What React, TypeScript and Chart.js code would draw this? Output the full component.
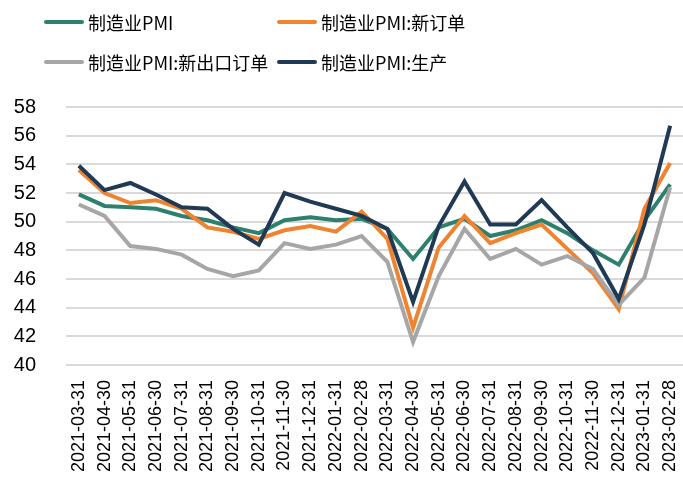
import React, { useEffect, useRef } from "react";
import { Chart, registerables } from "chart.js";

Chart.register(...registerables);

const categories = [
  "2021-03-31", "2021-04-30", "2021-05-31", "2021-06-30", "2021-07-31", "2021-08-31",
  "2021-09-30", "2021-10-31", "2021-11-30", "2021-12-31", "2022-01-31", "2022-02-28",
  "2022-03-31", "2022-04-30", "2022-05-31", "2022-06-30", "2022-07-31", "2022-08-31",
  "2022-09-30", "2022-10-31", "2022-11-30", "2022-12-31", "2023-01-31", "2023-02-28",
];

const pmi = [51.9, 51.1, 51.0, 50.9, 50.4, 50.1, 49.6, 49.2, 50.1, 50.3, 50.1, 50.2, 49.5, 47.4, 49.6, 50.2, 49.0, 49.4, 50.1, 49.2, 48.0, 47.0, 50.1, 52.6];
const newOrders = [53.6, 52.0, 51.3, 51.5, 50.9, 49.6, 49.3, 48.8, 49.4, 49.7, 49.3, 50.7, 48.8, 42.6, 48.2, 50.4, 48.5, 49.2, 49.8, 48.1, 46.4, 43.9, 50.9, 54.1];
const newExportOrders = [51.2, 50.4, 48.3, 48.1, 47.7, 46.7, 46.2, 46.6, 48.5, 48.1, 48.4, 49.0, 47.2, 41.6, 46.2, 49.5, 47.4, 48.1, 47.0, 47.6, 46.7, 44.2, 46.1, 52.4];
const production = [53.9, 52.2, 52.7, 51.9, 51.0, 50.9, 49.5, 48.4, 52.0, 51.4, 50.9, 50.4, 49.5, 44.4, 49.7, 52.8, 49.8, 49.8, 51.5, 49.6, 47.8, 44.6, 49.8, 56.7];

const seriesNames = ["制造业PMI", "制造业PMI:新订单", "制造业PMI:新出口订单", "制造业PMI:生产"];
const seriesColors = ["#2E806E", "#F0832F", "#A6A6A6", "#203A55"];
const yMin = 40;
const yMax = 58;
const yStep = 2;

const legendPos = [
  { left: 44, top: 22 },
  { left: 277, top: 22 },
  { left: 44, top: 62 },
  { left: 277, top: 62 },
];

export default function App() {
  const ref = useRef<HTMLCanvasElement | null>(null);

  useEffect(() => {
    if (!ref.current) return;
    const seriesData = [pmi, newOrders, newExportOrders, production];
    const chart = new Chart(ref.current, {
      type: "line",
      data: {
        labels: categories,
        datasets: seriesData.map((d, i) => ({
          label: seriesNames[i],
          data: d,
          borderColor: seriesColors[i],
          backgroundColor: seriesColors[i],
          borderWidth: 4,
          pointRadius: 0,
          tension: 0,
          fill: false,
          order: 3 - i,
        })),
      },
      options: {
        animation: false,
        responsive: false,
        layout: { padding: { top: 107, left: 0, right: 0, bottom: 0 } },
        plugins: { legend: { display: false }, tooltip: { enabled: false } },
        scales: {
          x: {
            offset: true,
            grid: { display: false, drawTicks: false },
            border: { display: false },
            ticks: {
              autoSkip: false,
              minRotation: 90,
              maxRotation: 90,
              padding: 15,
              color: "#000",
              font: { family: "'Liberation Sans', Arial, sans-serif", size: 18 },
            },
            afterFit: (s: any) => {
              s.height = 132;
              s.paddingLeft = 0;
              s.paddingRight = 0;
            },
          },
          y: {
            min: yMin,
            max: yMax,
            grid: { color: "#D9D9D9", lineWidth: 2, drawTicks: false },
            border: { display: false },
            ticks: {
              stepSize: yStep,
              padding: 30,
              color: "#000",
              font: { family: "'Liberation Sans', Arial, sans-serif", size: 20 },
            },
            afterFit: (s: any) => {
              s.width = 66;
              s.paddingTop = 0;
              s.paddingBottom = 0;
            },
          },
        },
      },
    });
    return () => chart.destroy();
  }, []);

  return (
    <div style={{ position: "fixed", left: 0, top: 0, width: 683, height: 497, background: "#fff", overflow: "hidden" }}>
      <canvas ref={ref} width={683} height={497} style={{ position: "absolute", left: 0, top: 0 }} />
      {seriesNames.map((name, i) => (
        <div
          key={name}
          style={{
            position: "absolute",
            left: legendPos[i].left,
            top: legendPos[i].top - 14,
            height: 28,
            display: "flex",
            alignItems: "center",
            whiteSpace: "nowrap",
            fontFamily: "'Noto Sans CJK SC', sans-serif",
            fontSize: 18,
            color: "#000",
          }}
        >
          <span style={{ display: "inline-block", width: 40, height: 4, borderRadius: 2, background: seriesColors[i], marginRight: 4 }} />
          <span>{name}</span>
        </div>
      ))}
    </div>
  );
}
